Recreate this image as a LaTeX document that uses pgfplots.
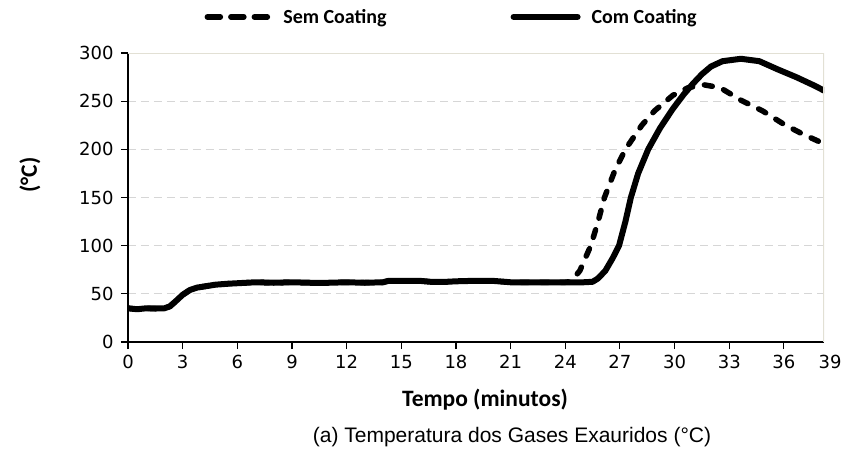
\documentclass[border=0pt]{standalone}
\usepackage{fontspec}
\usepackage{pgfplots}
\pgfplotsset{compat=1.18}
\setmainfont{DejaVu Sans}
\newfontfamily\carlito{Carlito}
\newfontfamily\arialf{Liberation Sans}
\definecolor{borderc}{RGB}{226,224,212}

\pgfplotstableread{
x y
0 35
0.5 34
1 35
1.5 34.5
2 35
2.3 37
2.6 42
3 49
3.4 54
3.8 56.5
4.3 58
4.8 59.5
5.5 60.5
6.5 61.5
7 62
8 61.5
9 62
10 61.5
11 61.5
12 62
13 61.5
14 62
14.3 63.5
15 63.5
16 63.5
16.6 62.5
17.5 62.5
18 63
19 63.5
20 63.5
21 62
22 62
23 62
24 62
24.2 62.5
24.45 66
24.8 74
25.1 87
25.4 100
25.8 125
26.15 150
26.7 177
27.3 200
28.2 225
28.9 240
29.9 256
30.75 264
31.6 267
32.5 264
33.64 251
34.82 240
36.0 226
37.01 216
37.94 208
}\semcoating

\pgfplotstableread{
x y
0 35
0.5 34
1 35
1.5 35
2 35
2.3 37
2.6 42
3 49
3.4 54
3.8 56.5
4.3 58
4.8 59.5
5.5 60.5
6.5 61.5
7 62
8 61.5
9 62
10 61.5
11 61.5
12 62
13 61.5
14 62
14.3 63.5
15 63.5
16 63.5
16.6 62.5
17.5 62.5
18 63
19 63.5
20 63.5
21 62
22 62
23 62
24 62
25 62
25.5 62.5
25.8 66
26.2 74
26.6 87
26.95 100
27.3 125
27.6 150
28.0 175
28.55 200
29.2 222
29.9 242
30.5 257
31.0 268
31.5 278
32.0 286
32.63 291.5
33.64 294
34.65 291.5
35.66 283
36.67 275
37.69 266
38.2 261
}\comcoating

\begin{document}
\begin{tikzpicture}
\path[use as bounding box] (-128bp,-110bp) rectangle (715bp,342bp);
\begin{axis}[
  at={(0,0)}, anchor=south west,
  scale only axis, width=696bp, height=289bp,
  xmin=0, xmax=38.2, ymin=0, ymax=300,
  xtick={0,3,...,36}, ytick={0,50,...,300},
  extra x ticks={38.2}, extra x tick labels={39},
  extra x tick style={major tick style={draw=none}, xticklabel style={xshift=6bp}},
  axis x line*=bottom, axis y line*=left,
  axis line style={black, line width=1.1bp, -},
  tick align=outside,
  major tick length=7bp,
  tick style={black, line width=1.1bp},
  ymajorgrids,
  grid style={draw=black!16, line width=1bp, dash pattern=on 8bp off 5bp},
  /pgf/number format/assume math mode=true,
  every tick label/.append style={font=\fontsize{18bp}{21bp}\selectfont},
  xticklabel style={yshift=-2.5bp},
  yticklabel style={xshift=-4bp},
  xlabel={Tempo (minutos)},
  ylabel={(°C)},
  xlabel style={font=\carlito\bfseries\fontsize{23.5bp}{26bp}\selectfont, at={(axis description cs:0.513,-0.2)}, anchor=center},
  ylabel style={font=\carlito\bfseries\fontsize{23.5bp}{26bp}\selectfont, at={(axis description cs:-0.141,0.578)}, anchor=center},
  legend columns=2,
  legend style={at={(axis description cs:0.465,1.125)}, anchor=center, draw=none, fill=none,
    font=\carlito\bfseries\fontsize{20bp}{22bp}\selectfont,
    /tikz/every odd column/.append style={column sep=9bp},
    /tikz/every even column/.append style={column sep=122bp},
    inner xsep=0pt},
]
\addplot[black, line width=5.5bp, dash pattern=on 8bp off 12bp, line cap=round, line join=round,
  legend image code/.code={\draw[black, line width=5.5bp, line cap=round, dash pattern=on 13bp off 10.5bp] (2.75bp,0bp) -- (65bp,0bp);}] table {\semcoating};
\addlegendentry{Sem Coating}
\addplot[black, line width=6bp, line cap=round, line join=round,
  legend image code/.code={\draw[black, line width=6bp, line cap=round] (3bp,0bp) -- (67bp,0bp);}] table {\comcoating};
\addlegendentry{Com Coating}
\draw[borderc, line width=1.2bp] (rel axis cs:0,1) -- (rel axis cs:1,1) -- (rel axis cs:1,0);
\end{axis}
\node[font=\arialf\fontsize{21bp}{24bp}\selectfont] at (384bp,-95bp) {(a) Temperatura dos Gases Exauridos (°C)};
\end{tikzpicture}
\end{document}
